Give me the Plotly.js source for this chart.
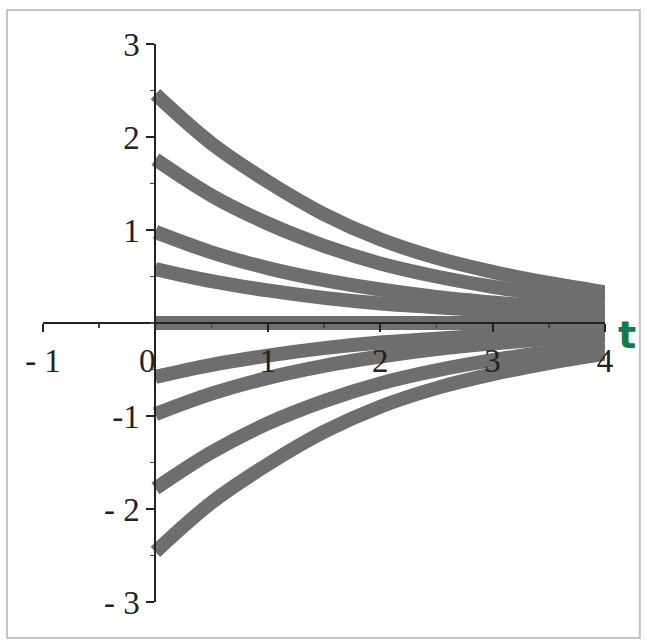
<!DOCTYPE html>
<html>
<head>
<meta charset="utf-8">
<script src="https://cdn.plot.ly/plotly-3.0.1.min.js"></script>
<style>html,body{margin:0;padding:0;background:#fff;}#chart{width:647px;height:644px;}</style>
</head>
<body>
<div id="chart"></div>
<script>
// t values (horizontal)
var tValues = [0, 0.5, 1, 1.5, 2, 2.5, 3, 3.5, 4];
// solution curves
var curveA = [2.46, 1.93, 1.52, 1.17, 0.90, 0.70, 0.55, 0.43, 0.33];
var curveB = [1.76, 1.37, 1.07, 0.83, 0.64, 0.50, 0.39, 0.30, 0.24];
var curveC = [0.98, 0.76, 0.59, 0.46, 0.36, 0.28, 0.22, 0.17, 0.13];
var curveD = [0.58, 0.45, 0.35, 0.27, 0.21, 0.17, 0.13, 0.10, 0.08];
var curveE = [0, 0, 0, 0, 0, 0, 0, 0, 0];
var curveF = [-0.58, -0.45, -0.35, -0.27, -0.21, -0.17, -0.13, -0.10, -0.08];
var curveG = [-0.98, -0.76, -0.59, -0.46, -0.36, -0.28, -0.22, -0.17, -0.13];
var curveH = [-1.78, -1.39, -1.08, -0.84, -0.65, -0.51, -0.40, -0.31, -0.24];
var curveI = [-2.46, -1.93, -1.52, -1.17, -0.90, -0.70, -0.55, -0.43, -0.33];
var curves = [curveA, curveB, curveC, curveD, curveE, curveF, curveG, curveH, curveI];

var xTickVals = [-1, 0, 1, 2, 3, 4];
var xTickText = ['- 1', '0\u00a0\u00a0', '1', '2', '3', '4'];
var yTickVals = [-3, -2, -1, 1, 2, 3];
var yTickText = ['- 3', '- 2', '-1', '1', '2', '3'];

var traces = curves.map(function (c) {
  return {
    x: tValues, y: c, type: 'scatter', mode: 'lines',
    line: {color: '#6e6e6e', width: 14, shape: 'spline', smoothing: 1},
    hoverinfo: 'skip', showlegend: false
  };
});

var tickFont = {family: 'Liberation Serif', size: 33, color: '#222'};

var layout = {
  width: 647, height: 644,
  margin: {l: 43, r: 42, t: 44, b: 42, pad: 0},
  paper_bgcolor: '#fff', plot_bgcolor: 'rgba(0,0,0,0)',
  showlegend: false,
  xaxis: {
    range: [-1, 4], anchor: 'free', position: 0.5,
    showgrid: false, zeroline: false, showline: true, linecolor: '#222', linewidth: 2,
    ticks: 'outside', ticklen: 8, tickwidth: 2, tickcolor: '#222',
    tickvals: xTickVals, ticktext: xTickText, tickfont: tickFont,
    minor: {dtick: 0.5, tick0: 0, ticks: 'outside', ticklen: 4, tickwidth: 1.5, tickcolor: '#444', showgrid: false},
    layer: 'above traces', fixedrange: true
  },
  yaxis: {
    range: [-3, 3], anchor: 'free', position: 0.2,
    showgrid: false, zeroline: false, showline: true, linecolor: '#222', linewidth: 2,
    ticks: 'outside', ticklen: 8, tickwidth: 2, tickcolor: '#222',
    tickvals: yTickVals, ticktext: yTickText, tickfont: tickFont,
    minor: {dtick: 0.5, tick0: 0, ticks: 'outside', ticklen: 4, tickwidth: 1.5, tickcolor: '#444', showgrid: false},
    layer: 'above traces', fixedrange: true
  },
  shapes: [{
    type: 'rect', xref: 'paper', yref: 'paper',
    x0: -0.064, x1: 1.062, y0: -0.0645, y1: 1.061,
    line: {color: '#c4c4c4', width: 2}, fillcolor: 'rgba(0,0,0,0)', layer: 'below'
  }],
  annotations: [{
    xref: 'paper', yref: 'paper', x: 1.04, y: 0.478, xanchor: 'center', yanchor: 'middle', showarrow: false,
    text: '<b>t</b>', font: {family: 'DejaVu Sans', size: 38, color: '#137a4a'}
  }]
};

Plotly.newPlot('chart', traces, layout, {displayModeBar: false, staticPlot: true});
</script>
</body>
</html>
